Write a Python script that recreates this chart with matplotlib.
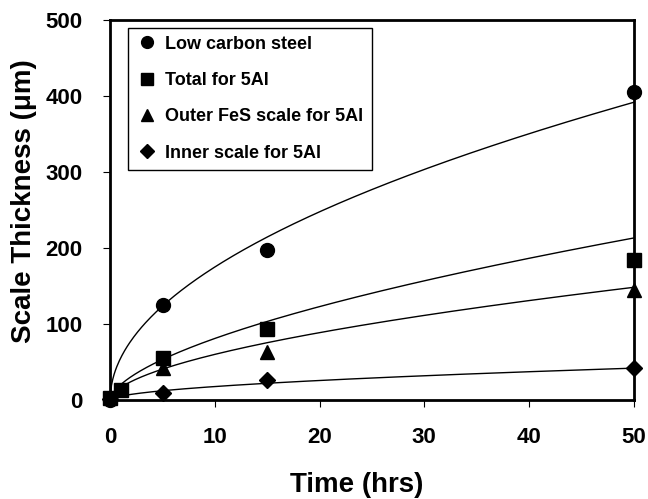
"""Scale thickness versus exposure time with power-law fits"""

import numpy
import matplotlib
matplotlib.use('Agg')
import matplotlib.pyplot as plt

plt.rcParams['font.family'] = ['Liberation Sans', 'DejaVu Sans']
plt.rcParams['font.weight'] = 'bold'

# measured points
t_steel = [0, 5, 15, 50]
y_steel = [0, 125, 197, 405]
t_total = [0, 1, 5, 15, 50]
y_total = [3, 13, 55, 93, 185]
t_outer = [5, 15, 50]
y_outer = [42, 64, 145]
t_inner = [0, 5, 15, 50]
y_inner = [2, 10, 27, 42]

# fitted curves y = a * t**n
fit_a = [55.4, 20.4, 16.6, 5.3]
fit_n = [0.50, 0.60, 0.56, 0.53]

labels = ['Low carbon steel', 'Total for 5Al', 'Outer FeS scale for 5Al', 'Inner scale for 5Al']
markers = ['o', 's', '^', 'D']
msizes = [10, 10, 10, 8]

fig = plt.figure(figsize=(6.48, 4.99), dpi=100)
ax = fig.add_axes([0.170, 0.198, 0.808, 0.762])

tt = numpy.linspace(0.0, 50.0, 400)
for a, n in zip(fit_a, fit_n):
    ax.plot(tt, a * tt ** n, color='black', lw=1.0, zorder=2)

series = [(t_steel, y_steel), (t_total, y_total), (t_outer, y_outer), (t_inner, y_inner)]
for (t, y), m, ms, lab in zip(series, markers, msizes, labels):
    ax.plot(t, y, linestyle='none', marker=m, ms=ms, color='black', label=lab,
            clip_on=False, zorder=3)

ax.set_xlim(0, 50)
ax.set_ylim(0, 500)
ax.set_xticks(range(0, 51, 10))
ax.set_yticks(range(0, 501, 100))
for s in ax.spines.values():
    s.set_linewidth(2.0)
ax.tick_params(direction='out', length=5, width=0.8, labelsize=16)
ax.tick_params(axis='x', pad=14)
ax.tick_params(axis='y', pad=15)
for lbl in ax.get_xticklabels() + ax.get_yticklabels():
    lbl.set_fontweight('bold')

ax.set_xlabel('Time (hrs)', fontsize=20, fontweight='bold')
ax.set_ylabel('Scale Thickness (\u03bcm)', fontsize=20, fontweight='bold')
ax.xaxis.set_label_coords(0.470, -0.19)
ax.yaxis.set_label_coords(-0.165, 0.524)
ax.yaxis.label.set_va('center')

leg = ax.legend(loc='upper left', bbox_to_anchor=(0.035, 0.980), frameon=True,
                fancybox=False, edgecolor='black', framealpha=1.0,
                prop={'size': 13, 'weight': 'bold'}, labelspacing=1.07,
                handletextpad=0.5, handlelength=1.1, borderpad=0.45,
                borderaxespad=0.0, markerscale=0.85)
leg.get_frame().set_linewidth(1.0)

fig.savefig('out.png', dpi=100)
